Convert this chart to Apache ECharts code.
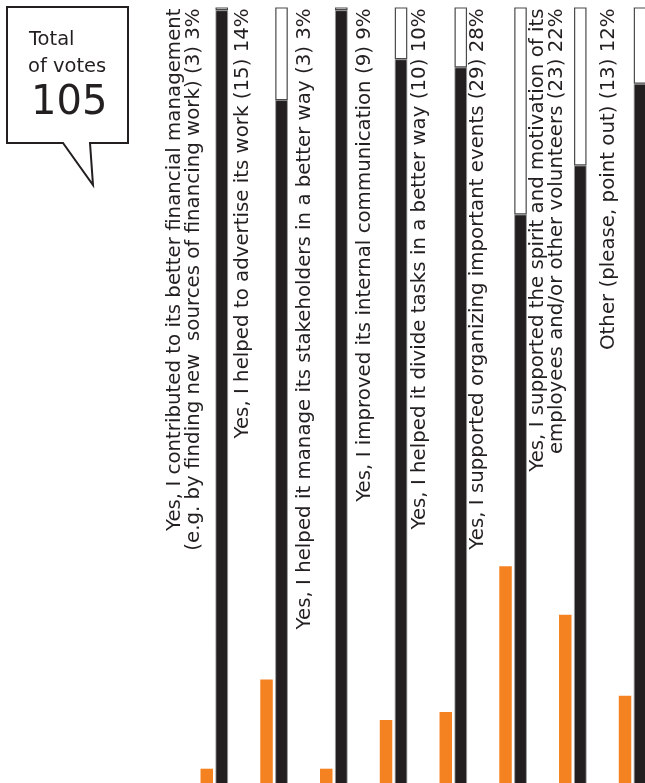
<!DOCTYPE html>
<html>
<head>
<meta charset="utf-8">
<script src="https://cdn.jsdelivr.net/npm/echarts@6/dist/echarts.min.js"></script>
<style>
  html, body { margin: 0; padding: 0; background: #ffffff; }
  #chart { width: 645px; height: 783px; }
</style>
</head>
<body>
<div id="chart"></div>
<script>
// Answer options, vote counts and shares
const categories = [
  'Yes, I contributed to its better financial management\n(e.g. by finding new  sources of financing work)',
  'Yes, I helped to advertise its work',
  'Yes, I helped it manage its stakeholders in a better way',
  'Yes, I improved its internal communication',
  'Yes, I helped it divide tasks in a better way',
  'Yes, I supported organizing important events',
  'Yes, I supported the spirit and motivation of its\nemployees and/or other volunteers',
  'Other (please, point out)'
];
const votes = [3, 15, 3, 9, 10, 29, 23, 13];
const percents = [3, 14, 3, 9, 10, 28, 22, 12];

const totalVotes = votes.reduce((a, b) => a + b, 0);
const remainders = percents.map(p => 100 - p);

// horizontal placement of each rotated caption, measured from the bar's left edge
const captionShift = [-31, -32, -30, -30, -35, -36, -27, -25];

const FONT = '"DejaVu Sans", sans-serif';
const INK = '#231f20';
const ORANGE = '#f58220';

const chart = echarts.init(document.getElementById('chart'), null, { renderer: 'canvas' });

chart.setOption({
  animation: false,
  backgroundColor: '#ffffff',
  grid: {
    left: 184.4, width: 478, top: 8, bottom: -10,
    containLabel: false,
    outerBoundsMode: 'none'
  },
  xAxis: {
    type: 'category',
    data: categories,
    show: false
  },
  yAxis: [
    { type: 'value', min: 0, max: 96.9, show: false },
    { type: 'value', min: 1.19, max: 97.28, show: false }
  ],
  series: [
    {
      name: 'share',
      type: 'bar',
      yAxisIndex: 0,
      data: percents,
      barWidth: 12.5,
      barGap: '20%',
      itemStyle: { color: ORANGE }
    },
    {
      name: 'rest',
      type: 'bar',
      yAxisIndex: 1,
      stack: 'whole',
      data: remainders,
      barWidth: 12.5,
      barGap: '20%',
      itemStyle: { color: INK, borderColor: '#9a9a9a', borderWidth: 0.8 }
    },
    {
      name: 'answer',
      type: 'bar',
      yAxisIndex: 1,
      stack: 'whole',
      data: percents.map((p, i) => ({
        value: p,
        label: { position: [captionShift[i], 1] }
      })),
      barWidth: 12.5,
      barGap: '20%',
      clip: true,
      itemStyle: { color: '#ffffff', borderColor: '#4a4a4a', borderWidth: 1.2 },
      label: {
        show: true,
        rotate: 90,
        align: 'right',
        verticalAlign: 'middle',
        color: INK,
        fontFamily: FONT,
        fontSize: 19.8,
        lineHeight: 19,
        formatter: (p) => categories[p.dataIndex] + ' (' + votes[p.dataIndex] + ') ' + percents[p.dataIndex] + '%'
      }
    }
  ],
  graphic: [
    {
      type: 'polygon',
      shape: { points: [[7, 7], [128, 7], [128, 143], [90, 143], [93, 185], [63, 143], [7, 143]] },
      style: { fill: '#ffffff', stroke: INK, lineWidth: 2 },
      z: 10
    },
    {
      type: 'text', x: 29, y: 40, z: 11,
      style: { text: 'Total', font: '19.5px ' + FONT, fill: INK, verticalAlign: 'middle' }
    },
    {
      type: 'text', x: 28, y: 67, z: 11,
      style: { text: 'of votes', font: '19.5px ' + FONT, fill: INK, verticalAlign: 'middle' }
    },
    {
      type: 'text', x: 31, y: 104, z: 11,
      style: { text: String(totalVotes), font: '40px ' + FONT, fill: INK, verticalAlign: 'middle' }
    }
  ]
});
</script>
</body>
</html>
